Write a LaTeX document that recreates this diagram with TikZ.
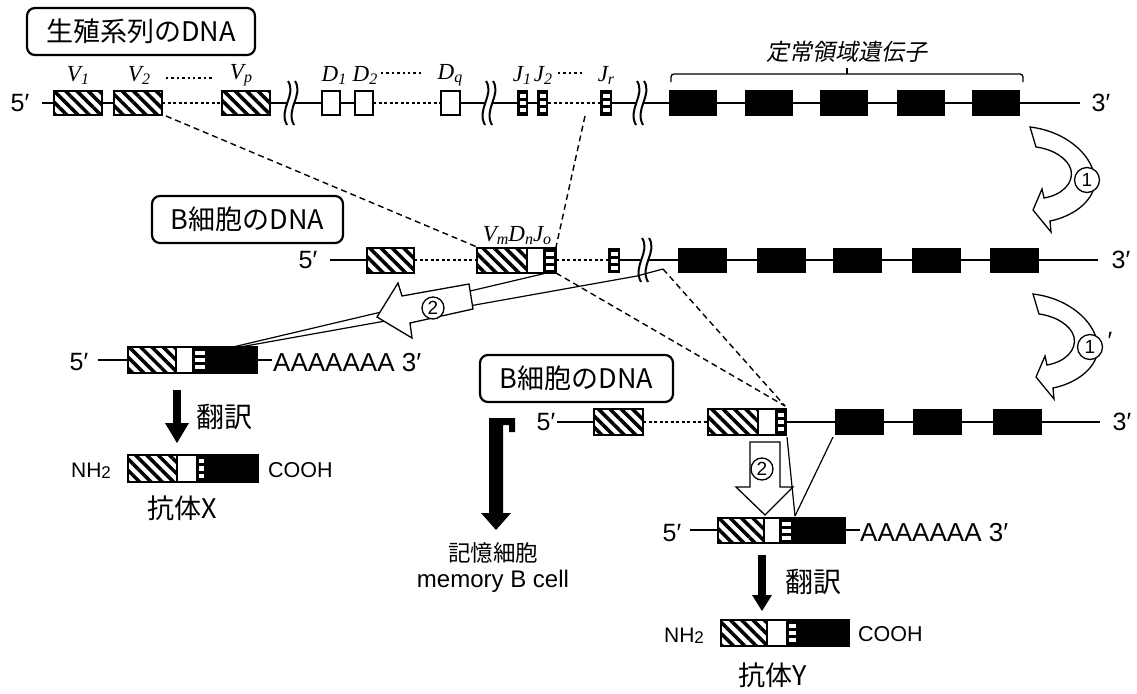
\documentclass[tikz,border=0pt]{standalone}
\usepackage{fontspec}
\setmainfont{Liberation Sans}
\newfontfamily\jp{Noto Sans CJK JP}
\newfontfamily\jpi[FakeSlant=0.2]{Noto Sans CJK JP}
\newfontfamily\ser{Liberation Serif}
\usetikzlibrary{patterns.meta}
\newcommand\fs[1]{\fontsize{#1}{#1}\selectfont}
\newcommand\gl[2]{{\ser\itshape\fs{23}#1\raisebox{-3pt}{\fs{16}#2}}}
\tikzset{
  dna/.style={line width=1.8pt},
  dotl/.style={line width=1.8pt,dash pattern=on 3pt off 2.5pt},
  dotlab/.style={line width=2.4pt,dash pattern=on 2.4pt off 3pt},
  dsh/.style={line width=1.4pt,dash pattern=on 6pt off 4pt},
  thinl/.style={line width=1.2pt},
  hatchp/.style={pattern={Lines[angle=-45,distance=8pt,line width=3.5pt]}},
  lbl/.style={draw,line width=2.2pt,rounded corners=8pt,inner sep=0pt,minimum height=47pt,font=\jp\fs{27}},
  endl/.style={font=\fs{25},inner sep=0pt},
  circ/.style={circle,draw,fill=white,line width=1.3pt,inner sep=0pt,minimum size=22pt,font=\fs{19}},
  glab/.style={inner sep=0pt},
  brk/.pic={\draw[line width=2pt] (-3,-22) .. controls (6,-8) and (-13,6) .. (-4,22);
            \draw[line width=2pt] (4,-22) .. controls (13,-8) and (-6,6) .. (3,22);},
  bigarrow/.style={draw,fill=white,line width=1.3pt,line join=miter}
}
\newcommand\HB[4]{\fill[white] (#1,#2) rectangle (#3,#4);
  \fill[hatchp] (#1,#2) rectangle (#3,#4);
  \draw[line width=1.6pt] (#1,#2) rectangle (#3,#4);}
\newcommand\BB[4]{\fill (#1,#2) rectangle (#3,#4);}
\newcommand\WB[4]{\filldraw[fill=white,line width=1.6pt] (#1,#2) rectangle (#3,#4);}
\newcommand\JB[4]{\fill (#1,#2) rectangle (#3,#4);
  \foreach \f in {0.14,0.42,0.70}{\fill[white] ({#1+2.5},{#2+\f*(#4-#2)}) rectangle ({#3-2.5},{#2+(\f+0.16)*(#4-#2)});}}
\newcommand\Gene[7]{%
  \fill[white] (#1,#2) rectangle (#6,#7);
  \fill[hatchp] (#1,#2) rectangle (#3,#7);
  \fill (#4,#2) rectangle (#6,#7);
  \foreach \f in {0.14,0.42,0.70}{\fill[white] ({#4+3},{#2+\f*(#7-#2)}) rectangle ({#5-2},{#2+(\f+0.16)*(#7-#2)});}
  \draw[line width=1.6pt] (#1,#2) rectangle (#6,#7);
  \draw[line width=1.2pt] (#3,#2) -- (#3,#7);}
\newcommand\CurveArrow{%
  \path[bigarrow] (1030,127) .. controls (1072,132) and (1100,163) .. (1094,188)
    .. controls (1089,205) and (1070,217) .. (1050,221) -- (1051,232) -- (1033,210)
    -- (1042,189) -- (1044,198) .. controls (1062,195) and (1074,183) .. (1071,170)
    .. controls (1068,158) and (1052,149) .. (1036,147) -- cycle;}
\begin{document}
\begin{tikzpicture}[x=1pt,y=-1pt]
\useasboundingbox (0,0) rectangle (1137,693);

% ---------- dashed guide lines ----------
\coordinate (v2e) at (166,116);
\coordinate (vmS) at (477,247);
\coordinate (jrs) at (585,116);
\coordinate (joT) at (556,247);
\coordinate (joB) at (556,273);
\coordinate (cS) at (663,269);
\coordinate (cS2) at (637,276);
\coordinate (j3) at (785,406);
\draw[dsh] (v2e) -- (vmS);
\draw[dsh] (jrs) -- (joT);
\draw[dsh] (joB) -- (j3);
\draw[dsh] (cS) -- (j3);

% ---------- splice lines to mRNA X ----------
\coordinate (mx1) at (233,347);
\coordinate (mx2) at (240,347);
\draw[thinl] (555,271) -- (mx1);
\draw[thinl] (cS) -- (cS2) -- (mx2);

% ---------- left big arrow 2 ----------
\path[bigarrow] (469,284) -- (473,309) -- (410,323) -- (412,338) -- (377,317) -- (398,283) -- (402,296) -- cycle;
\node[circ,minimum size=22pt] (c2a) at (433,308) {2};

% ---------- row 1 : germline ----------
\draw[dna] (42,103) -- (114,103);
\draw[dotl] (162,103) -- (222,103);
\draw[dna] (270,103) -- (287.5,103);
\pic at (291,103) {brk};
\draw[dna] (294.5,103) -- (373,103);
\draw[dotl] (373,103) -- (441,103);
\draw[dna] (460,103) -- (485.5,103);
\pic at (489,103) {brk};
\draw[dna] (492.5,103) -- (548,103);
\draw[dotl] (548,103) -- (600,103);
\draw[dna] (612,103) -- (636.5,103);
\pic at (640,103) {brk};
\draw[dna] (643.5,103) -- (1080,103);
\HB{54}{91}{102}{115}
\HB{114}{91}{162}{115}
\HB{222}{91}{270}{115}
\WB{322}{91}{340}{115}
\WB{355}{91}{373}{115}
\WB{441}{91}{460}{115}
\JB{517}{90}{528}{116}
\JB{537}{90}{548}{116}
\JB{600}{90}{612}{116}
\foreach \x in {669,745,820,897,972}{\BB{\x}{90}{\x+48}{116}}
\node[endl] (r1l) at (20,103) {5′};
\node[endl] (r1r) at (1101,103) {3′};
\node[glab] (lv1) at (78,75) {\gl{V}{1}};
\node[glab] (lv2) at (139,75) {\gl{V}{2}};
\node[glab] (lvp) at (241,75) {\gl{V}{p}};
\node[glab] (ld1) at (334,75) {\gl{D}{1}};
\node[glab] (ld2) at (365,75) {\gl{D}{2}};
\node[glab] (ldq) at (450,75) {\gl{D}{q}};
\node[glab] (lj1) at (522,75) {\gl{J}{1}};
\node[glab] (lj2) at (543,75) {\gl{J}{2}};
\node[glab] (ljr) at (606,75) {\gl{J}{r}};
\draw[dotlab] (166,78) -- (214,78);
\draw[dotlab] (381,73) -- (424,73);
\draw[dotlab] (558,73) -- (584,73);
\draw[line width=1.3pt,rounded corners=3pt] (671,82) -- (671,74) -- (1023,74) -- (1023,82);
\draw[line width=1.3pt] (847,74) -- (847,68);
\node[inner sep=0pt,font=\jpi\fs{23}] (cgene) at (847,52) {定常領域遺伝子};
\node[lbl,minimum width=228pt] (lab1) at (141,31.5) {生殖系列のDNA};

% ---------- curved arrows 1 and 1' ----------
\CurveArrow
\node[circ,minimum size=25pt] (c1) at (1087,180) {1};
\begin{scope}[shift={(3,167)}]
\CurveArrow
\end{scope}
\node[circ,minimum size=25pt] (c1p) at (1090,347) {1};
\node[endl] (c1pr) at (1110,341) {′};

% ---------- row 2 : B cell DNA ----------
\draw[dna] (330,260) -- (367,260);
\draw[dotl] (414,260) -- (477,260);
\draw[dotl] (556,260) -- (608,260);
\draw[dna] (620,260) -- (641.5,260);
\pic at (645,260) {brk};
\draw[dna] (648.5,260) -- (1098,260);
\HB{367}{248}{414}{273}
\Gene{477}{248}{527}{543}{556}{556}{273}
\JB{608}{248}{620}{273}
\foreach \x in {678,757,833,912,990}{\BB{\x}{248}{\x+49}{273}}
\node[endl] (r2l) at (308,260) {5′};
\node[endl] (r2r) at (1121,260) {3′};
\node[glab] (lvdj) at (517,236) {\gl{V}{m}\gl{D}{n}\gl{J}{o}};
\node[lbl,minimum width=191pt] (lab2) at (247.5,219.5) {B細胞のDNA};

% ---------- mRNA X ----------
\draw[dna] (98,360) -- (128,360);
\draw[dna] (257,360) -- (272,360);
\Gene{128}{347}{176}{192}{207}{257}{373}
\node[endl] (mxl) at (79,362) {5′};
\node[endl,anchor=west,font=\fs{26}] (mxr) at (273,363) {AAAAAAA 3′};
% translate X
\fill (173,390) rectangle (181,423);
\fill (165,423) -- (189,423) -- (177,443) -- cycle;
\node[inner sep=0pt,font=\jp\fs{28}] (trx) at (224,417) {翻訳};
% protein X
\Gene{128}{455}{177}{196}{206}{258}{482}
\node[inner sep=0pt,font=\fs{21}] (nhx) at (91,471) {NH\raisebox{-1.5pt}{\fs{17}2}};
\node[inner sep=0pt,font=\fs{21.5},anchor=west] (cox) at (268,470) {COOH};
\node[inner sep=0pt,font=\jp\fs{27}] (abx) at (182,508) {抗体X};

% ---------- row 3 : B cell DNA ----------
\draw[dna] (557,422) -- (594,422);
\draw[dotl] (643,422) -- (708,422);
\draw[dna] (786,422) -- (1100,422);
\HB{594}{409}{643}{435}
\Gene{708}{409}{758}{775}{786}{786}{435}
\foreach \x in {835,913,993}{\BB{\x}{409}{\x+49}{435}}
\node[endl] (r3l) at (546,422) {5′};
\node[endl] (r3r) at (1122,422) {3′};
\node[lbl,minimum width=193pt] (lab3) at (576.5,378.5) {B細胞のDNA};

% memory arrow
\fill (489,418) -- (515,418) -- (515,432) -- (509,432) -- (509,425) -- (503,425) -- (503,513) -- (511,513) -- (496,530) -- (481,513) -- (489,513) -- cycle;
\node[inner sep=0pt,font=\jp\fs{22.5}] (mem1) at (493,553) {記憶細胞};
\node[inner sep=0pt,font=\fs{24}] (mem2) at (493,581) {memory B cell};

% splice lines to mRNA Y
\coordinate (my) at (795,516);
\draw[thinl] (787,437) -- (my);
\draw[thinl] (833,437) -- (my);
% down arrow 2
\path[bigarrow] (750,442) -- (780,442) -- (780,487) -- (793,487) -- (765,515) -- (736,487) -- (750,487) -- cycle;
\node[circ,minimum size=22pt] (c2b) at (762,469) {2};

% ---------- mRNA Y ----------
\draw[dna] (690,530) -- (718,530);
\draw[dna] (845,530) -- (860,530);
\Gene{718}{518}{764}{779}{793}{845}{543}
\node[endl] (myl) at (672,533) {5′};
\node[endl,anchor=west,font=\fs{26}] (myr) at (860,533) {AAAAAAA 3′};
% translate Y
\fill (758,555) rectangle (766,595);
\fill (752,595) -- (772,595) -- (762,611) -- cycle;
\node[inner sep=0pt,font=\jp\fs{28}] (try) at (813,582) {翻訳};
% protein Y
\Gene{721}{620}{767}{786}{798}{849}{646}
\node[inner sep=0pt,font=\fs{21}] (nhy) at (684,636) {NH\raisebox{-1.5pt}{\fs{17}2}};
\node[inner sep=0pt,font=\fs{21.5},anchor=west] (coy) at (858,634) {COOH};
\node[inner sep=0pt,font=\jp\fs{27}] (aby) at (773,675) {抗体Y};
\end{tikzpicture}
\end{document}
